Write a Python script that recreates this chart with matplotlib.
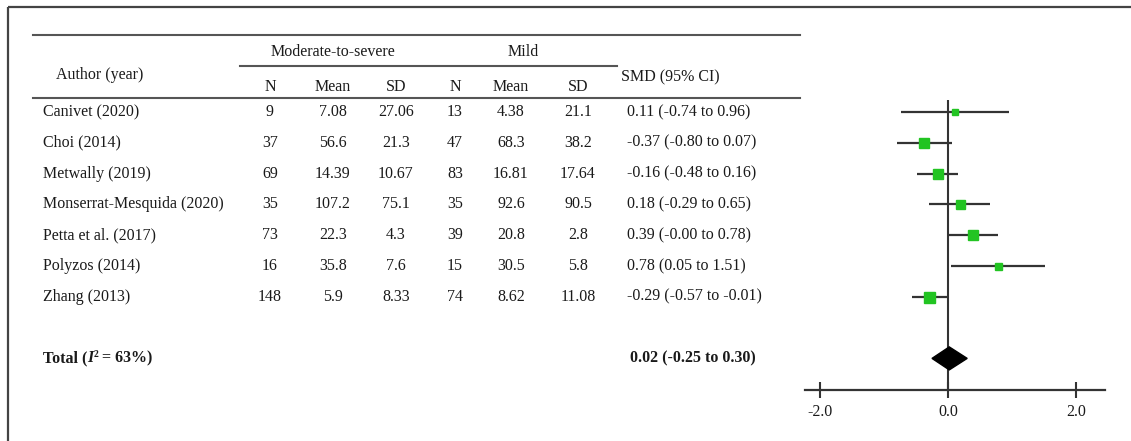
import matplotlib.pyplot as plt

plt.rcParams['font.family'] = ['Liberation Serif', 'DejaVu Serif']

# data
authors = ['Canivet (2020)', 'Choi (2014)', 'Metwally (2019)', 'Monserrat-Mesquida (2020)',
           'Petta et al. (2017)', 'Polyzos (2014)', 'Zhang (2013)']
mod_n = ['9', '37', '69', '35', '73', '16', '148']
mod_mean = ['7.08', '56.6', '14.39', '107.2', '22.3', '35.8', '5.9']
mod_sd = ['27.06', '21.3', '10.67', '75.1', '4.3', '7.6', '8.33']
mild_n = ['13', '47', '83', '35', '39', '15', '74']
mild_mean = ['4.38', '68.3', '16.81', '92.6', '20.8', '30.5', '8.62']
mild_sd = ['21.1', '38.2', '17.64', '90.5', '2.8', '5.8', '11.08']
smd = [0.11, -0.37, -0.16, 0.18, 0.39, 0.78, -0.29]
lo = [-0.74, -0.80, -0.48, -0.29, -0.00, 0.05, -0.57]
hi = [0.96, 0.07, 0.16, 0.65, 0.78, 1.51, -0.01]
weights = [6.5, 10, 10, 9, 10, 7, 11]   # marker box size, px
total_smd, total_lo, total_hi = 0.02, -0.25, 0.30
i2 = 63
xticks = [-2.0, 0.0, 2.0]

W, H = 1131, 441
fig = plt.figure(figsize=(W / 100, H / 100), dpi=100)
bg = fig.add_axes([0, 0, 1, 1])
bg.set_xlim(0, W)
bg.set_ylim(H, 0)
bg.axis('off')

ink = '#1a1a1a'
rule = '#555555'
fs = 11.5

# frame (only left and top visible in the crop)
bg.plot([8, 8], [7, H], color='#444444', lw=1.6, solid_capstyle='butt')
bg.plot([8, W], [7, 7], color='#444444', lw=1.6, solid_capstyle='butt')

# table rules
bg.plot([33, 800], [35, 35], color=rule, lw=1.5)
bg.plot([240, 617], [66, 66], color=rule, lw=1.5)
bg.plot([33, 800], [98, 98], color=rule, lw=1.5)

# header
bg.text(100, 75, 'Author (year)', ha='center', va='center', fontsize=fs, color=ink)
bg.text(333, 52, 'Moderate-to-severe', ha='center', va='center', fontsize=fs, color=ink)
bg.text(523, 52, 'Mild', ha='center', va='center', fontsize=fs, color=ink)
bg.text(621, 77, 'SMD (95% CI)', ha='left', va='center', fontsize=fs, color=ink)
col_x = [270, 333, 396, 455, 511, 578]
for x, lab in zip(col_x, ['N', 'Mean', 'SD', 'N', 'Mean', 'SD']):
    bg.text(x, 87, lab, ha='center', va='center', fontsize=fs, color=ink)

row0, step = 112, 30.8
cols = [mod_n, mod_mean, mod_sd, mild_n, mild_mean, mild_sd]
for i, a in enumerate(authors):
    y = row0 + i * step
    bg.text(43, y, a, ha='left', va='center', fontsize=fs, color=ink)
    for x, c in zip(col_x, cols):
        bg.text(x, y, c[i], ha='center', va='center', fontsize=fs, color=ink)
    low = '-0.00' if lo[i] == 0 else f'{lo[i]:.2f}'
    txt = f'{smd[i]:.2f} ({low} to {hi[i]:.2f})'
    bg.text(627, y, txt, ha='left', va='center', fontsize=fs, color=ink)

# total row
ty = row0 + 8 * step
t1 = bg.text(43, ty, 'Total (', ha='left', va='center', fontsize=fs,
             fontweight='bold', color=ink)
t2 = bg.annotate('I', xy=(1, 0), xycoords=t1, va='bottom', ha='left',
                 fontsize=fs, fontweight='bold', fontstyle='italic', color=ink)
bg.annotate('2', xy=(1, 0.45), xycoords=t2, va='bottom', ha='left',
            fontsize=fs * 0.6, fontweight='bold', color=ink)
bg.annotate(f' = {i2}%)', xy=(1, 0), xycoords=t2, xytext=(3.5, 0),
            textcoords='offset points', va='bottom', ha='left',
            fontsize=fs, fontweight='bold', color=ink)
bg.text(630, ty, f'{total_smd:.2f} ({total_lo:.2f} to {total_hi:.2f})', ha='left',
        va='center', fontsize=fs, fontweight='bold', color=ink)

# forest plot
x0, x1 = 805, 1105
y_top, y_axis = 100, 390
ax = fig.add_axes([x0 / W, (H - y_axis) / H, (x1 - x0) / W, (y_axis - y_top) / H])
zero_px, unit_px = 948, 64
ax.set_xlim((x0 - zero_px) / unit_px, (x1 - zero_px) / unit_px)
ax.set_ylim((y_axis - row0) / step, (y_top - row0) / step)
ax.patch.set_alpha(0)
for s in ['top', 'left', 'right']:
    ax.spines[s].set_visible(False)
ax.spines['bottom'].set_linewidth(1.6)
ax.spines['bottom'].set_color('#333333')
ax.set_yticks([])
ax.set_xticks(xticks)
ax.set_xticklabels([f'{v:.1f}' for v in xticks])
ax.tick_params(axis='x', direction='inout', length=11.5, width=1.5, color='#333333',
               pad=4, labelsize=fs, labelcolor=ink)

ax.axvline(0, color='#333333', lw=1.5)
green = '#22c422'
for i in range(len(smd)):
    ax.plot([lo[i], hi[i]], [i, i], color='#333333', lw=1.6, solid_capstyle='butt')
    ax.plot(smd[i], i, marker='s', ms=weights[i] * 0.72, color=green, mec=green)

h = 11.5 / step
ax.fill([total_lo, total_smd, total_hi, total_smd], [8, 8 - h, 8, 8 + h],
        color='black', zorder=3)

fig.savefig('out.png', dpi=100)
